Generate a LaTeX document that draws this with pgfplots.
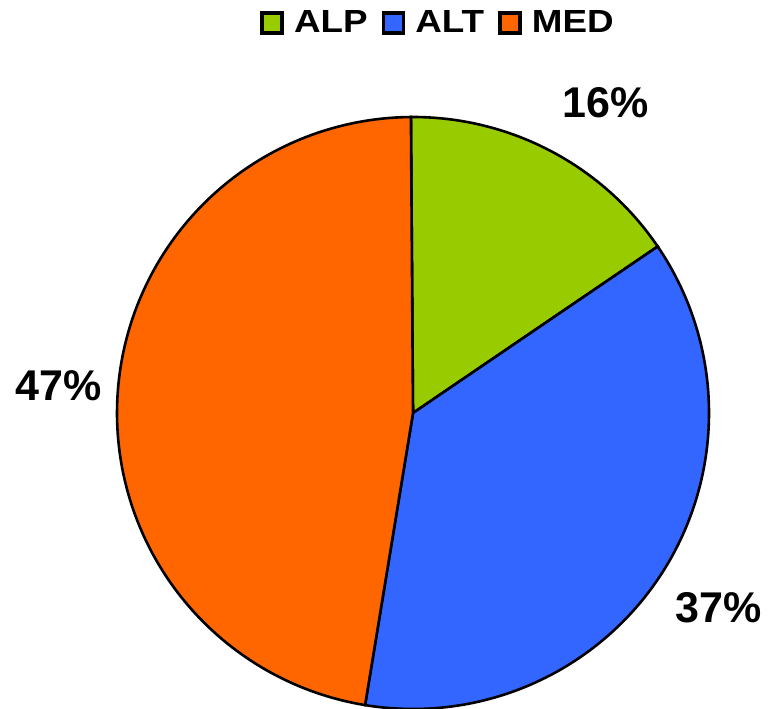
\documentclass[border=0pt]{standalone}
\usepackage{pgfplots}
\pgfplotsset{compat=1.18}
\usepackage{fontspec}
\setmainfont{Liberation Sans}
\newfontfamily\legfont[FakeStretch=1.15]{Liberation Sans}
\definecolor{alp}{HTML}{99CC00}
\definecolor{alt}{HTML}{3366FF}
\definecolor{med}{HTML}{FF6600}
\begin{document}
\begin{tikzpicture}
\def\cx{413}\def\cy{295}\def\R{296}
\def\start{-0.4}
% shares in percent
\def\sALP{15.6}\def\sALT{37.1}\def\sMED{47.3}
\pgfmathsetmacro\aA{\start}
\pgfmathsetmacro\aB{\aA+3.6*\sALP}
\pgfmathsetmacro\aC{\aB+3.6*\sALT}
\pgfmathsetmacro\aD{\aC+3.6*\sMED}
\begin{axis}[x=0.5pt,y=0.5pt, xmin=0,xmax=774,ymin=0,ymax=708,
  hide axis, scale only axis, clip=true,
  legend columns=3,
  legend style={at={(axis cs:439,685)}, anchor=center, draw=none, fill=none,
    font=\legfont\bfseries\fontsize{16}{19}\selectfont,
    /tikz/every even column/.append style={column sep=5pt}},
  legend image code/.code={\draw[#1, draw=black, line width=1.7pt] (0pt,-5pt) rectangle (10pt,5pt);
     \path[draw=none, fill=none] (10pt,0pt) -- (14pt,0pt);},
]
\addplot[fill=alp, draw=black, line width=1.3pt, domain=\aA:\aB, samples=80, variable=\t]
  ({\cx+\R*sin(\t)},{\cy+\R*cos(\t)}) -- (axis cs:\cx,\cy) -- cycle;
\addlegendentry{ALP}
\addplot[fill=alt, draw=black, line width=1.3pt, domain=\aB:\aC, samples=120, variable=\t]
  ({\cx+\R*sin(\t)},{\cy+\R*cos(\t)}) -- (axis cs:\cx,\cy) -- cycle;
\addlegendentry{ALT}
\addplot[fill=med, draw=black, line width=1.3pt, domain=\aC:\aD, samples=150, variable=\t]
  ({\cx+\R*sin(\t)},{\cy+\R*cos(\t)}) -- (axis cs:\cx,\cy) -- cycle;
\addlegendentry{MED}
\node[font=\bfseries\fontsize{21.5}{26}\selectfont] at (axis cs:606,605.5) {16\%};
\node[font=\bfseries\fontsize{21.5}{26}\selectfont] at (axis cs:719,100.5) {37\%};
\node[font=\bfseries\fontsize{21.5}{26}\selectfont] at (axis cs:58.5,322.5) {47\%};
\end{axis}
\path (current axis.south west) rectangle (current axis.north east);
\end{tikzpicture}
\end{document}
